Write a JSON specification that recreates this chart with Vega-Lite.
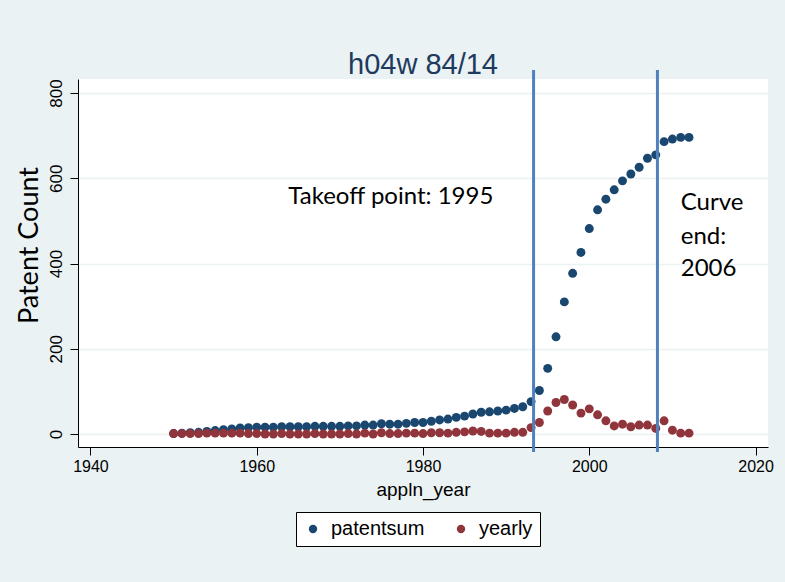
{
  "$schema": "https://vega.github.io/schema/vega-lite/v6.json",
  "width": 690,
  "height": 368,
  "autosize": "none",
  "padding": {"left": 78, "top": 79, "right": 17, "bottom": 135},
  "background": "#eaf2f3",
  "title": {"text": "h04w 84/14", "fontSize": 29, "font": "Liberation Sans", "fontWeight": "normal", "color": "#1e3a5f", "anchor": "middle", "offset": -11},
  "config": {"view": {"fill": "white", "stroke": null}},
  "datasets": {
    "patents": [
      {"appln_year": 1950, "patentsum": 1, "yearly": 1},
      {"appln_year": 1951, "patentsum": 2, "yearly": 1},
      {"appln_year": 1952, "patentsum": 3, "yearly": 1},
      {"appln_year": 1953, "patentsum": 4, "yearly": 1},
      {"appln_year": 1954, "patentsum": 6, "yearly": 2},
      {"appln_year": 1955, "patentsum": 8, "yearly": 2},
      {"appln_year": 1956, "patentsum": 10, "yearly": 2},
      {"appln_year": 1957, "patentsum": 12, "yearly": 2},
      {"appln_year": 1958, "patentsum": 14, "yearly": 2},
      {"appln_year": 1959, "patentsum": 15, "yearly": 1},
      {"appln_year": 1960, "patentsum": 16, "yearly": 1},
      {"appln_year": 1961, "patentsum": 16, "yearly": 0},
      {"appln_year": 1962, "patentsum": 16, "yearly": 0},
      {"appln_year": 1963, "patentsum": 17, "yearly": 1},
      {"appln_year": 1964, "patentsum": 17, "yearly": 0},
      {"appln_year": 1965, "patentsum": 17, "yearly": 0},
      {"appln_year": 1966, "patentsum": 17, "yearly": 0},
      {"appln_year": 1967, "patentsum": 18, "yearly": 1},
      {"appln_year": 1968, "patentsum": 18, "yearly": 0},
      {"appln_year": 1969, "patentsum": 18, "yearly": 0},
      {"appln_year": 1970, "patentsum": 18, "yearly": 0},
      {"appln_year": 1971, "patentsum": 19, "yearly": 1},
      {"appln_year": 1972, "patentsum": 19, "yearly": 0},
      {"appln_year": 1973, "patentsum": 21, "yearly": 2},
      {"appln_year": 1974, "patentsum": 21, "yearly": 0},
      {"appln_year": 1975, "patentsum": 24, "yearly": 3},
      {"appln_year": 1976, "patentsum": 23, "yearly": 1},
      {"appln_year": 1977, "patentsum": 23, "yearly": 1},
      {"appln_year": 1978, "patentsum": 25, "yearly": 2},
      {"appln_year": 1979, "patentsum": 27, "yearly": 2},
      {"appln_year": 1980, "patentsum": 27, "yearly": 1},
      {"appln_year": 1981, "patentsum": 30, "yearly": 3},
      {"appln_year": 1982, "patentsum": 33, "yearly": 3},
      {"appln_year": 1983, "patentsum": 35, "yearly": 2},
      {"appln_year": 1984, "patentsum": 39, "yearly": 4},
      {"appln_year": 1985, "patentsum": 42, "yearly": 5},
      {"appln_year": 1986, "patentsum": 47, "yearly": 7},
      {"appln_year": 1987, "patentsum": 51, "yearly": 6},
      {"appln_year": 1988, "patentsum": 52, "yearly": 2},
      {"appln_year": 1989, "patentsum": 54, "yearly": 2},
      {"appln_year": 1990, "patentsum": 56, "yearly": 2},
      {"appln_year": 1991, "patentsum": 60, "yearly": 4},
      {"appln_year": 1992, "patentsum": 64, "yearly": 4},
      {"appln_year": 1993, "patentsum": 76, "yearly": 15},
      {"appln_year": 1994, "patentsum": 102, "yearly": 27},
      {"appln_year": 1995, "patentsum": 154, "yearly": 54},
      {"appln_year": 1996, "patentsum": 228, "yearly": 74},
      {"appln_year": 1997, "patentsum": 310, "yearly": 81},
      {"appln_year": 1998, "patentsum": 377, "yearly": 68},
      {"appln_year": 1999, "patentsum": 426, "yearly": 49},
      {"appln_year": 2000, "patentsum": 482, "yearly": 59},
      {"appln_year": 2001, "patentsum": 526, "yearly": 45},
      {"appln_year": 2002, "patentsum": 551, "yearly": 31},
      {"appln_year": 2003, "patentsum": 573, "yearly": 19},
      {"appln_year": 2004, "patentsum": 594, "yearly": 23},
      {"appln_year": 2005, "patentsum": 610, "yearly": 17},
      {"appln_year": 2006, "patentsum": 626, "yearly": 21},
      {"appln_year": 2007, "patentsum": 647, "yearly": 21},
      {"appln_year": 2008, "patentsum": 655, "yearly": 13},
      {"appln_year": 2009, "patentsum": 686, "yearly": 31},
      {"appln_year": 2010, "patentsum": 692, "yearly": 9},
      {"appln_year": 2011, "patentsum": 696, "yearly": 2},
      {"appln_year": 2012, "patentsum": 696, "yearly": 2}
    ],
    "markers": [
      {"year": 1993.3, "top": 854, "bottom": -42},
      {"year": 2008.2, "top": 854, "bottom": -42}
    ],
    "notes": [
      {"label": "Takeoff point: 1995", "year": 1963.8, "value": 556},
      {"label": "Curve", "year": 2011.0, "value": 542},
      {"label": "end:", "year": 2011.0, "value": 462},
      {"label": "2006", "year": 2011.0, "value": 387}
    ]
  },
  "layer": [
    {
      "data": {"name": "patents"},
      "transform": [{"fold": ["patentsum", "yearly"], "as": ["series", "count"]}],
      "mark": {"type": "circle", "size": 80, "opacity": 1},
      "encoding": {
        "x": {
          "field": "appln_year", "type": "quantitative",
          "scale": {"domain": [1938.5, 2021.5], "nice": false, "zero": false},
          "axis": {"values": [1940, 1960, 1980, 2000, 2020], "format": "d", "title": "appln_year", "grid": false,
            "labelFont": "Liberation Sans", "labelFontSize": 16, "labelColor": "#000",
            "titleFont": "Liberation Sans", "titleFontSize": 19, "titleFontWeight": "normal", "titleColor": "#000",
            "tickSize": 8, "tickColor": "#000", "domainColor": "#000", "labelPadding": 3, "titlePadding": 6}
        },
        "y": {
          "field": "count", "type": "quantitative",
          "scale": {"domain": [-30.5, 833], "nice": false, "zero": false},
          "axis": {"values": [0, 200, 400, 600, 800], "format": "d", "title": "Patent Count", "grid": true,
            "gridColor": "#eaf2f3", "gridWidth": 1.5,
            "labelAngle": 270, "labelAlign": "center", "labelBaseline": "alphabetic",
            "labelFont": "Liberation Sans", "labelFontSize": 17, "labelColor": "#000",
            "titleFont": "Lato", "titleFontSize": 27, "titleFontWeight": "normal", "titleColor": "#000",
            "titleAngle": 270, "titleAlign": "center", "titleBaseline": "alphabetic",
            "titleX": -41, "titleY": 166,
            "tickSize": 8, "tickColor": "#000", "domainColor": "#000", "labelPadding": 9}
        },
        "color": {
          "field": "series", "type": "nominal",
          "scale": {"domain": ["patentsum", "yearly"], "range": ["#1a476f", "#90353b"]},
          "legend": {"title": null, "orient": "none", "legendX": 218, "legendY": 433, "direction": "horizontal",
            "fillColor": "white", "strokeColor": "#000", "padding": 7,
            "labelFont": "Liberation Sans", "labelFontSize": 20, "labelColor": "#000",
            "symbolType": "circle", "symbolSize": 70, "symbolStrokeWidth": 0, "labelOffset": 8, "columnPadding": 26}
        },
        "order": {"field": "series"}
      }
    },
    {
      "data": {"name": "markers"},
      "mark": {"type": "rule", "color": "#4f81bd", "strokeWidth": 3, "clip": false},
      "encoding": {
        "x": {"field": "year", "type": "quantitative", "scale": {"domain": [1938.5, 2021.5], "nice": false, "zero": false}},
        "y": {"field": "top", "type": "quantitative", "scale": {"domain": [-30.5, 833], "nice": false, "zero": false}},
        "y2": {"field": "bottom"}
      }
    },
    {
      "data": {"name": "notes"},
      "mark": {"type": "text", "align": "left", "baseline": "middle", "font": "Lato", "fontSize": 24, "color": "#000"},
      "encoding": {
        "x": {"field": "year", "type": "quantitative", "scale": {"domain": [1938.5, 2021.5], "nice": false, "zero": false}},
        "y": {"field": "value", "type": "quantitative", "scale": {"domain": [-30.5, 833], "nice": false, "zero": false}},
        "text": {"field": "label"}
      }
    }
  ]
}
